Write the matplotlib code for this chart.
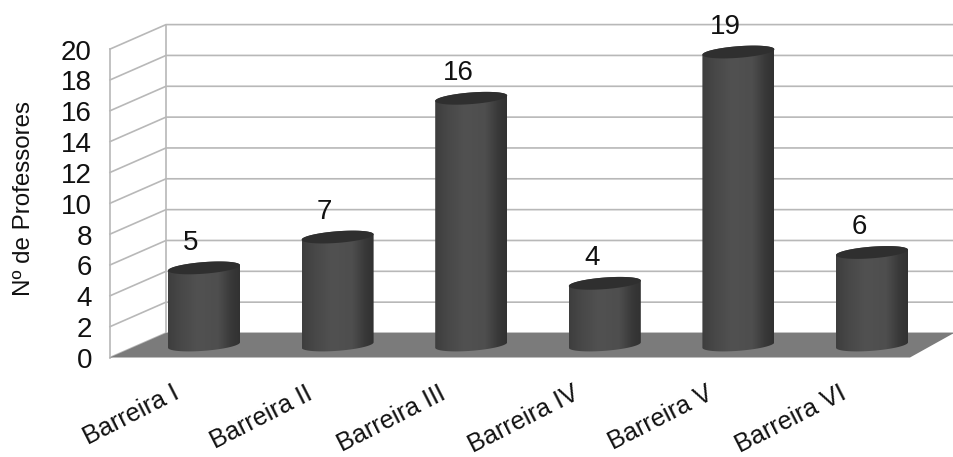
"""Cylinder column chart of professors per barrier, on a 3D-style wall and floor."""

import matplotlib

matplotlib.use("Agg")
import matplotlib.pyplot as plt
import numpy as np
from matplotlib.colors import LinearSegmentedColormap
from matplotlib.patches import Polygon

categories = ["Barreira I", "Barreira II", "Barreira III", "Barreira IV", "Barreira V", "Barreira VI"]
values = [5, 7, 16, 4, 19, 6]
y_ticks = [0, 2, 4, 6, 8, 10, 12, 14, 16, 18, 20]
y_label = "Nº de Professores"

W, H = 954, 457

# chart geometry, in figure pixels
FRONT_X, FRONT_Y0 = 110, 357.5
BACK_X, BACK_Y0 = 166, 333
RIGHT_BACK, RIGHT_FRONT = 954, 910
PX_PER_UNIT = 15.42
FIRST_BAR, BAR_STEP = 204, 133.6
BAR_HALF, BAR_BASE = 36, 345
ELL_B, ELL_SHEAR = 5.8, 2.7

plt.rcParams["font.family"] = ["Liberation Sans", "DejaVu Sans"]

shade = LinearSegmentedColormap.from_list(
    "cyl",
    [(0, "#3e3e3e"), (0.2, "#494949"), (0.42, "#515151"), (0.7, "#4e4e4e"), (0.88, "#393939"), (1, "#313131")],
)


def ellipse_arc(cx, cy, t):
    x = cx + BAR_HALF * np.cos(t)
    y = cy + ELL_B * np.sin(t) - ELL_SHEAR * np.cos(t)
    return np.column_stack([x, y])


def draw_cylinder(ax, cx, val):
    top = BAR_BASE - val * PX_PER_UNIT
    # y grows downward here, so t in (0, pi) is the lower half of the ellipse
    lower = ellipse_arc(cx, BAR_BASE, np.linspace(0, np.pi, 60))
    upper = ellipse_arc(cx, top, np.linspace(np.pi, 2 * np.pi, 60))
    body = Polygon(np.vstack([lower, upper]), closed=True, fc="none", ec="none", zorder=3)
    ax.add_patch(body)
    im = ax.imshow(
        np.linspace(0, 1, 128).reshape(1, -1),
        cmap=shade,
        vmin=0,
        vmax=1,
        extent=(cx - BAR_HALF, cx + BAR_HALF, BAR_BASE + ELL_B + 3, top - ELL_B - 3),
        aspect="auto",
        interpolation="bilinear",
        zorder=3,
    )
    im.set_clip_path(body)
    cap = ellipse_arc(cx, top, np.linspace(0, 2 * np.pi, 120))
    ax.add_patch(Polygon(cap, closed=True, fc="#2f2f2f", ec="none", zorder=4))
    ax.text(cx - 13, top - 25, str(val), ha="center", va="center", fontsize=20, color="#111111", zorder=5)


fig = plt.figure(figsize=(W / 100, H / 100), dpi=100, facecolor="white")
ax = fig.add_axes([0, 0, 1, 1])
ax.set_xlim(0, W)
ax.set_ylim(H, 0)
ax.axis("off")

grid_c = "#b8b8b8"
for t in y_ticks:
    d = t * PX_PER_UNIT
    ax.plot(
        [FRONT_X, BACK_X, RIGHT_BACK],
        [FRONT_Y0 - d, BACK_Y0 - d, BACK_Y0 - d],
        color=grid_c,
        lw=1.2,
        solid_joinstyle="miter",
        zorder=1,
    )
    ax.text(92, FRONT_Y0 - d + 3.5, str(t), ha="right", va="center", fontsize=20, color="#111111")

top_d = y_ticks[-1] * PX_PER_UNIT
ax.plot([FRONT_X, FRONT_X], [FRONT_Y0, FRONT_Y0 - top_d], color=grid_c, lw=1.2, zorder=1)
ax.plot([BACK_X, BACK_X], [BACK_Y0, BACK_Y0 - top_d], color=grid_c, lw=1.2, zorder=1)

floor = [(FRONT_X, FRONT_Y0), (BACK_X, BACK_Y0), (RIGHT_BACK, BACK_Y0), (RIGHT_FRONT, FRONT_Y0)]
ax.add_patch(Polygon(floor, closed=True, fc="#7b7b7b", ec="none", zorder=2))

for i, (name, val) in enumerate(zip(categories, values)):
    cx = FIRST_BAR + i * BAR_STEP
    draw_cylinder(ax, cx, val)
    ax.text(
        cx - 27,
        392,
        name,
        rotation=27,
        rotation_mode="anchor",
        ha="right",
        va="center",
        fontsize=18.2,
        color="#111111",
    )

ax.text(24, 199, y_label, rotation=90, ha="center", va="center", fontsize=17.4, color="#111111")

ax.set_xlim(0, W)
ax.set_ylim(H, 0)
fig.savefig("out.png", dpi=100, facecolor="white")
